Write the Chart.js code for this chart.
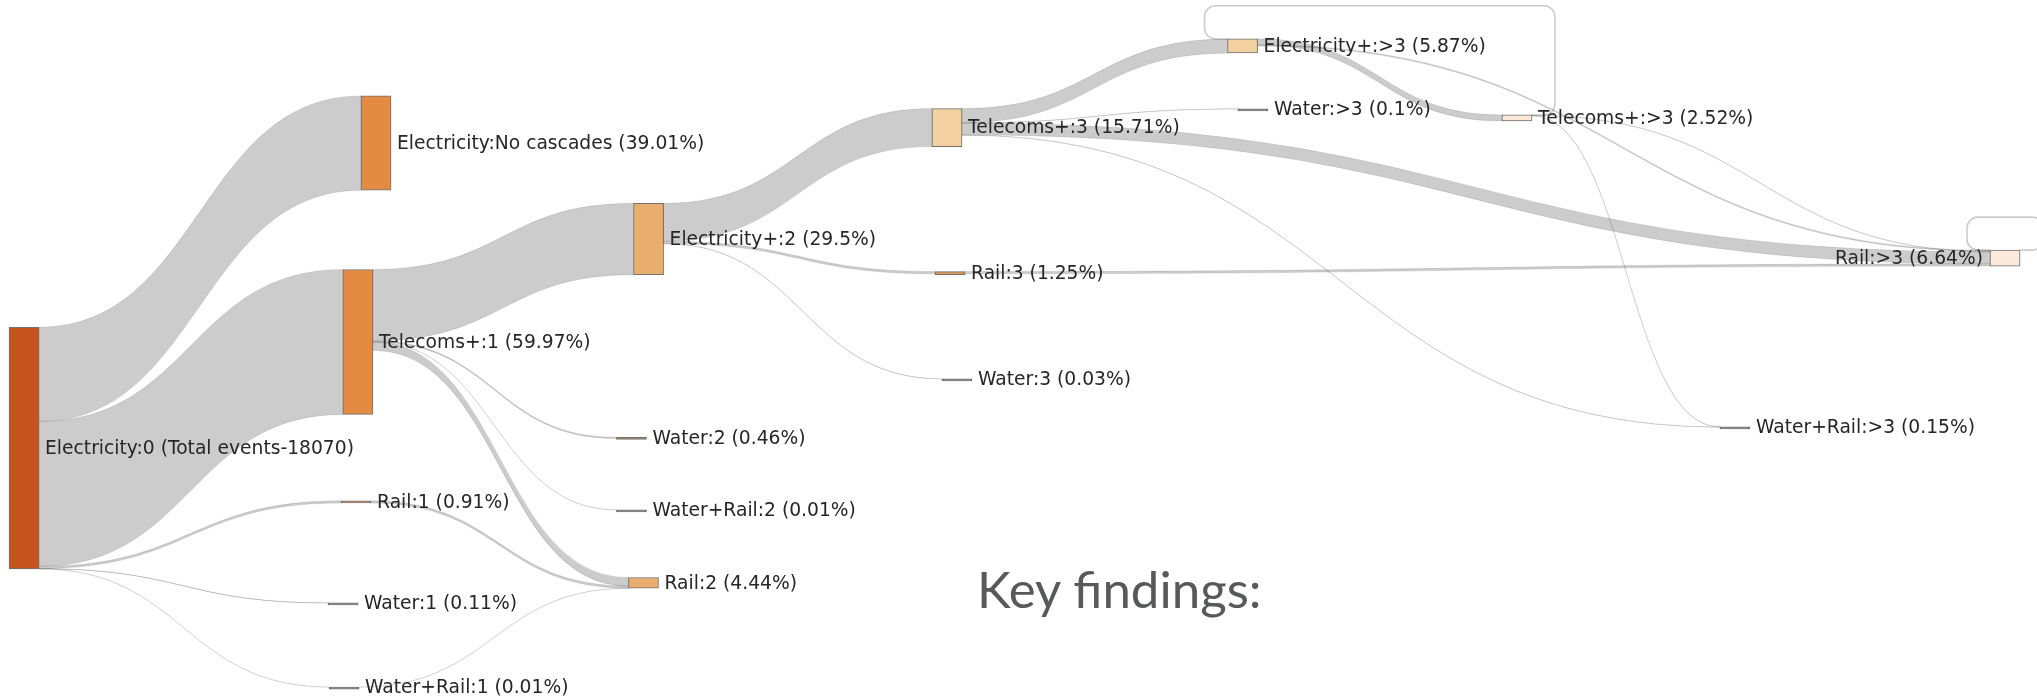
<!DOCTYPE html>
<html>
<head>
<meta charset="utf-8">
<title>Electricity cascades</title>
<script src="https://cdn.jsdelivr.net/npm/chart.js@4.4.0/dist/chart.umd.min.js"></script>
<style>
  html, body { margin: 0; padding: 0; background: #fff; overflow: hidden; }
  #wrap { position: relative; width: 2037px; height: 696px; }
  #note { position: absolute; left: 977px; top: 558px; font: 51px Lato, sans-serif; color: #58595b; white-space: nowrap; }
</style>
</head>
<body>
<div id="wrap">
  <canvas id="chart" width="2037" height="696"></canvas>
  <div id="note">Key findings:</div>
</div>
<script>
/* cascade sankey: electricity failures */
const totalEvents = 18070;

const nodeNames = [
  "Electricity:0", "Electricity:No cascades", "Telecoms+:1", "Rail:1", "Water:1", "Water+Rail:1",
  "Electricity+:2", "Water:2", "Water+Rail:2", "Rail:2",
  "Telecoms+:3", "Rail:3", "Water:3",
  "Electricity+:>3", "Water:>3", "Telecoms+:>3", "Water+Rail:>3", "Rail:>3",
];
// share of all events at each node (%)
const nodePct = [100, 39.01, 59.97, 0.91, 0.11, 0.01, 29.5, 0.46, 0.01, 4.44, 15.71, 1.25, 0.03, 5.87, 0.1, 2.52, 0.15, 6.64];

const linkSource = [0, 0, 0, 0, 0, 2, 2, 2, 2, 3, 5, 6, 6, 6, 10, 10, 10, 10, 13, 13, 15, 15, 15, 17, 11];
const linkTarget = [1, 2, 3, 4, 5, 6, 7, 8, 9, 9, 9, 10, 11, 12, 13, 14, 17, 16, 15, 17, 17, 16, 13, 17, 17];
const linkValue = [39.01, 59.97, 0.91, 0.11, 0.01, 29.5, 0.46, 0.01, 3.52, 0.91, 0.01, 15.71, 0.95, 0.03, 5.87, 0.1, 4.94, 0.08, 2.52, 0.5, 0.2, 0.07, 0.1, 0.05, 0.95];

// node arrangement (like plotly node.x / node.y): column 0..1, centre in % units from the top
const nodeX = [0.0118, 0.1846, 0.1757, 0.1748, 0.1684, 0.1689, 0.3184, 0.31, 0.31, 0.3159, 0.4649, 0.4664, 0.4698, 0.61, 0.6151, 0.7447, 0.8517, 0.9843];
const nodeY = [185.4, 59.2, 141.5, 207.7, 249.5, 284.3, 98.9, 181.2, 211.0, 241.2, 52.8, 113.0, 156.8, 19.0, 45.1, 48.8, 176.7, 106.8];

const nodeColors = [
  "#c8541d", "#e38b43", "#e38b43", "#b06a3c", "#555555", "#555555",
  "#e9ae6d", "#8a6a4a", "#555555", "#e9ae6d",
  "#f3d1a0", "#d99a5c", "#555555",
  "#f3d1a0", "#555555", "#fbe8d8", "#555555", "#fbe9dc",
];

(function () {
  const nodeWidth = 30;
  const loopRise = 33; // px above the higher node for circular links
  const loopReach = 23;

  const labelFor = (i) => (i === 0 ? `${nodeNames[i]} (Total events-${totalEvents})` : `${nodeNames[i]} (${nodePct[i]}%)`);
  const isLoop = (k) => nodeX[linkTarget[k]] <= nodeX[linkSource[k]];

  function linkEnds(y, unit) {
    const top = (n) => y.getPixelForValue(nodeY[n] - nodePct[n] / 2);
    const ends = linkValue.map(() => ({}));
    const all = linkValue.map((_, k) => k);
    nodeNames.forEach((_, n) => {
      let off = 0;
      all
        .filter((k) => linkSource[k] === n)
        .sort((a, b) => (isLoop(a) ? -1e9 : nodeY[linkTarget[a]]) - (isLoop(b) ? -1e9 : nodeY[linkTarget[b]]))
        .forEach((k) => {
          ends[k].y0 = top(n) + off;
          off += linkValue[k] * unit;
        });
      off = 0;
      all
        .filter((k) => linkTarget[k] === n)
        .sort((a, b) => (isLoop(a) ? -1e9 : nodeY[linkSource[a]]) - (isLoop(b) ? -1e9 : nodeY[linkSource[b]]))
        .forEach((k) => {
          ends[k].y1 = top(n) + off;
          off += linkValue[k] * unit;
        });
    });
    return ends;
  }

  const sankeyLinks = {
    id: "sankeyLinks",
    beforeDatasetsDraw(chart) {
      const { ctx } = chart;
      const { x, y } = chart.scales;
      const unit = Math.abs(y.getPixelForValue(1) - y.getPixelForValue(0));
      const half = nodeWidth / 2;
      const ends = linkEnds(y, unit);

      ctx.save();
      linkValue.forEach((v, k) => {
        const s = linkSource[k];
        const t = linkTarget[k];
        const w = v * unit;
        const x0 = x.getPixelForValue(nodeX[s]) + half;
        const x1 = x.getPixelForValue(nodeX[t]) - half;
        const { y0, y1 } = ends[k];

        if (isLoop(k)) {
          // circular link drawn as a rounded loop above the nodes
          const ys = y0 + w / 2;
          const yt = y1 + w / 2;
          const peak = Math.min(y.getPixelForValue(nodeY[s] - nodePct[s] / 2), y.getPixelForValue(nodeY[t] - nodePct[t] / 2)) - loopRise;
          const r = 11;
          ctx.beginPath();
          ctx.moveTo(x0, ys);
          ctx.arcTo(x0 + loopReach, ys, x0 + loopReach, peak, r);
          ctx.arcTo(x0 + loopReach, peak, x1 - loopReach, peak, r);
          ctx.arcTo(x1 - loopReach, peak, x1 - loopReach, yt, r);
          ctx.arcTo(x1 - loopReach, yt, x1, yt, r);
          ctx.lineTo(x1, yt);
          ctx.lineWidth = Math.max(w, 1.6);
          ctx.strokeStyle = "rgba(0,0,0,0.2)";
          ctx.stroke();
          return;
        }

        const xm = (x0 + x1) / 2;
        ctx.beginPath();
        ctx.moveTo(x0, y0);
        ctx.bezierCurveTo(xm, y0, xm, y1, x1, y1);
        ctx.lineTo(x1, y1 + w);
        ctx.bezierCurveTo(xm, y1 + w, xm, y0 + w, x0, y0 + w);
        ctx.closePath();
        ctx.fillStyle = "rgba(0,0,0,0.2)";
        ctx.fill();
        ctx.lineWidth = 0.5;
        ctx.strokeStyle = "rgba(0,0,0,0.2)";
        ctx.stroke();
      });
      ctx.restore();
    },
    afterDatasetsDraw(chart) {
      const { ctx } = chart;
      const { x, y } = chart.scales;
      const half = nodeWidth / 2;
      ctx.save();
      ctx.font = '18.7px "DejaVu Sans"';
      ctx.fillStyle = "#262626";
      ctx.textBaseline = "middle";
      nodeNames.forEach((_, i) => {
        const cx = x.getPixelForValue(nodeX[i]);
        const cy = y.getPixelForValue(nodeY[i]);
        const lastCol = nodeX[i] > 0.95;
        ctx.textAlign = lastCol ? "right" : "left";
        ctx.fillText(labelFor(i), lastCol ? cx - half - 7 : cx + half + 6, cy + 1);
      });
      ctx.restore();
    },
  };

  new Chart(document.getElementById("chart"), {
    type: "bar",
    data: {
      datasets: [
        {
          data: nodePct.map((p, i) => ({ x: nodeX[i], y: [nodeY[i] - p / 2, nodeY[i] + p / 2] })),
          backgroundColor: nodeColors,
          borderColor: "rgba(60,55,50,0.72)",
          borderWidth: 1,
          borderSkipped: false,
          barThickness: nodeWidth,
          minBarLength: 2,
        },
      ],
    },
    options: {
      responsive: false,
      devicePixelRatio: 1,
      animation: false,
      layout: { padding: 0 },
      plugins: { legend: { display: false }, tooltip: { enabled: false } },
      scales: {
        x: { type: "linear", min: 0, max: 1, offset: false, display: false },
        y: { min: 0, max: 288, reverse: true, display: false },
      },
    },
    plugins: [sankeyLinks],
  });
})();
</script>
</body>
</html>
